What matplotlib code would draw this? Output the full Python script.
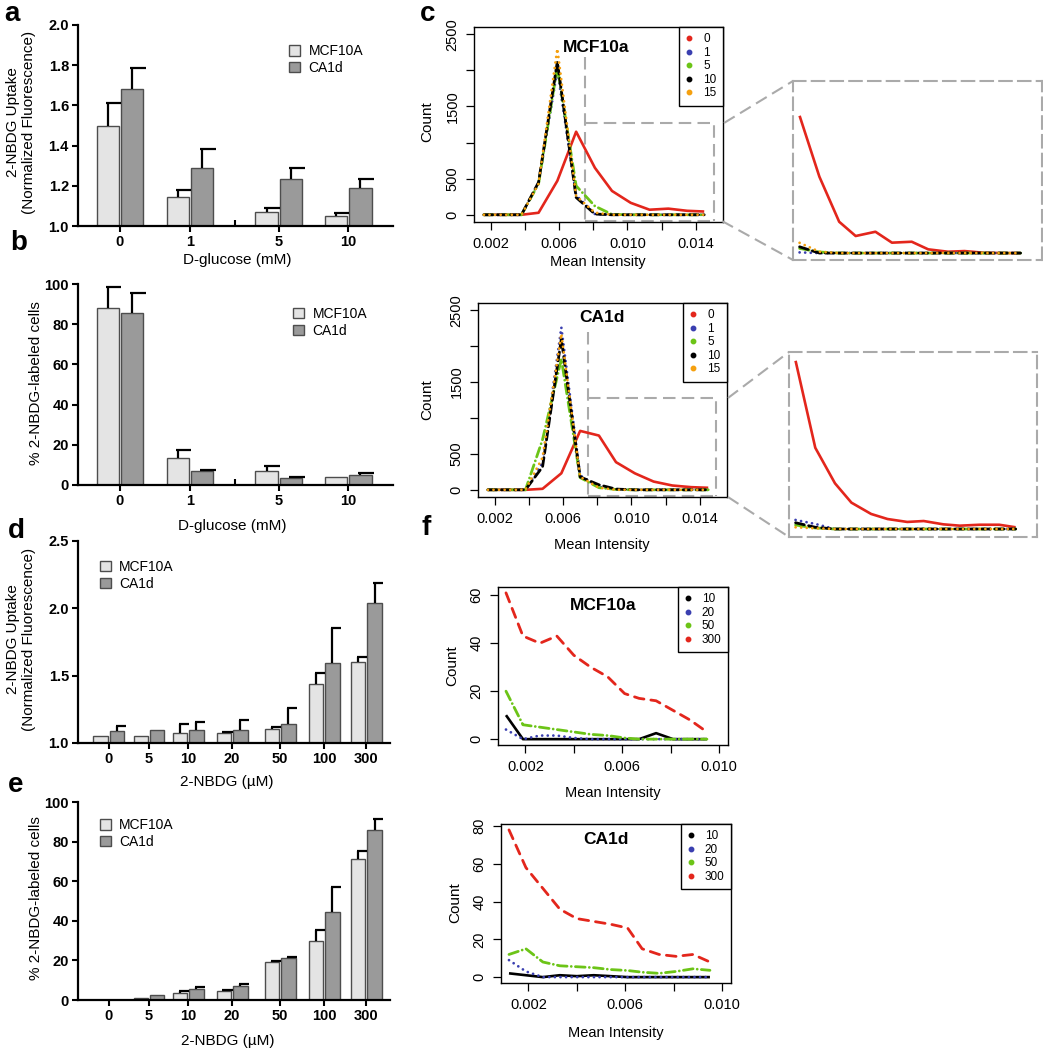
import numpy as np
import matplotlib
matplotlib.use('Agg')
import matplotlib.pyplot as plt
from matplotlib.lines import Line2D
from matplotlib.patches import Patch

plt.rcParams['font.family'] = ['Liberation Sans', 'DejaVu Sans']

# ---------------- data ----------------
glucose_labels = ['0', '1', '5', '10']
a_mcf = [1.50, 1.145, 1.07, 1.05]
a_mcf_err = [0.11, 0.035, 0.02, 0.015]
a_ca = [1.68, 1.29, 1.235, 1.19]
a_ca_err = [0.105, 0.095, 0.055, 0.045]

b_mcf = [88, 13.4, 7.1, 3.8]
b_mcf_err = [10.5, 4.0, 2.4, 0.0]
b_ca = [85.5, 7.0, 3.6, 5.0]
b_ca_err = [10.0, 0.5, 0.5, 1.1]

nbdg_labels = ['0', '5', '10', '20', '50', '100', '300']
d_mcf = [1.05, 1.054, 1.074, 1.074, 1.104, 1.436, 1.60]
d_mcf_err = [0, 0, 0.065, 0.005, 0.015, 0.086, 0.04]
d_ca = [1.089, 1.10, 1.10, 1.10, 1.139, 1.594, 2.04]
d_ca_err = [0.04, 0, 0.056, 0.073, 0.121, 0.26, 0.15]

e_mcf = [0, 0.8, 3.7, 4.7, 19.2, 29.7, 71]
e_mcf_err = [0, 0, 1.0, 0.5, 0.6, 5.6, 4.5]
e_ca = [0, 2.4, 5.5, 6.9, 21.2, 44.5, 86]
e_ca_err = [0, 0, 0.9, 1.0, 0.3, 12.6, 5.5]

# panel c: histograms of mean intensity (glucose mM)
c_labels = ['0', '1', '5', '10', '15']
c_x = [0.0016, 0.0027, 0.0038, 0.0048, 0.0059, 0.0070, 0.0081,
       0.0091, 0.0102, 0.0113, 0.0124, 0.0135, 0.0145]
c_mcf_0 = [0, 0, 0, 28, 470, 1150, 650, 330, 165, 70, 85, 55, 45]
c_mcf_1 = [0, 0, 0, 440, 2000, 270, 10, 0, 0, 0, 0, 0, 0]
c_mcf_5 = [0, 0, 0, 430, 2050, 400, 120, 5, 0, 0, 0, 0, 0]
c_mcf_10 = [0, 0, 0, 450, 2120, 240, 10, 0, 0, 0, 0, 0, 0]
c_mcf_15 = [0, 0, 0, 430, 2300, 260, 30, 0, 0, 0, 0, 0, 0]

c_ca_0 = [0, 0, 0, 14, 230, 820, 755, 385, 230, 115, 60, 37, 28]
c_ca_1 = [0, 0, 0, 380, 2260, 200, 40, 10, 0, 0, 0, 0, 0]
c_ca_5 = [0, 0, 0, 700, 1820, 170, 30, 5, 0, 0, 0, 0, 0]
c_ca_10 = [0, 0, 0, 320, 2100, 180, 70, 10, 0, 0, 0, 0, 0]
c_ca_15 = [0, 0, 0, 450, 2170, 180, 30, 0, 0, 0, 0, 0, 0]

# zoomed insets of panel c (finer bins)
z_x = [0.0077, 0.0083, 0.0089, 0.0094, 0.0100, 0.0105, 0.0111,
       0.0116, 0.0122, 0.0127, 0.0133, 0.0139, 0.0144]
z_mcf_0 = [1030, 573, 235, 128, 160, 78, 85, 28, 10, 15, 2, 0, 0]
z_mcf_1 = [5, 0, 0, 0, 0, 0, 0, 0, 0, 0, 0, 0, 0]
z_mcf_5 = [35, 8, 0, 0, 0, 0, 0, 0, 0, 0, 0, 0, 0]
z_mcf_10 = [47, 0, 0, 0, 0, 0, 0, 0, 0, 0, 0, 0, 0]
z_mcf_15 = [77, 10, 0, 0, 0, 0, 0, 0, 0, 0, 0, 0, 0]
z_ca_0 = [1263, 610, 343, 198, 113, 75, 53, 60, 35, 25, 32, 32, 13]
z_ca_1 = [68, 38, 0, 0, 0, 0, 0, 0, 0, 0, 0, 0, 0]
z_ca_5 = [30, 8, 0, 0, 0, 0, 0, 0, 0, 0, 0, 0, 0]
z_ca_10 = [47, 13, 0, 0, 0, 0, 0, 0, 0, 0, 0, 0, 0]
z_ca_15 = [13, 5, 0, 0, 0, 0, 0, 0, 0, 0, 0, 0, 0]

# panel f: histograms (2-NBDG uM)
f_labels = ['10', '20', '50', '300']
f_x = [0.0012, 0.0019, 0.0026, 0.0033, 0.0040, 0.0047, 0.0054,
       0.0061, 0.0067, 0.0074, 0.0081, 0.0088, 0.0095]
f_mcf_10 = [10, 0, 0, 0, 0, 0, 0, 0, 0, 2.5, 0, 0, 0]
f_mcf_20 = [4, 0, 1.5, 1.5, 0.5, 0, 0, 0, 0, 0, 0, 0, 0]
f_mcf_50 = [20, 6, 5, 4, 3, 2, 1.5, 0.5, 0, 0, 0, 0, 0]
f_mcf_300 = [61, 43, 40, 43, 35, 30, 26, 19, 17, 16, 12, 8, 3]
f_ca_10 = [2, 1, 0, 1, 0.5, 1, 0.5, 0, 0, 0, 0, 0, 0]
f_ca_20 = [9, 3, 0, 0, 0, 0, 0, 0, 0, 0, 0, 0, 0]
f_ca_50 = [12, 15, 8, 6, 5.5, 5, 4, 3.5, 2.6, 2, 3, 4.4, 3.6]
f_ca_300 = [78, 58, 47, 36, 31, 29.5, 28, 26, 15, 12, 11, 12, 8]

# ---------------- styles / layout ----------------
W, H = 1043, 1050
fig = plt.figure(figsize=(W / 100, H / 100), dpi=100)

LIGHT, DARK, EDGE = '#e4e4e4', '#9a9a9a', '#4d4d4d'
GRAY = '#aaaaaa'
RED, BLUE, GREEN, ORANGE = '#e3261c', '#3a3fb0', '#6cc417', '#f5a00f'
DOT = (0, (0.01, 2.0))
DASH = (0, (3.2, 1.6))
DOTDASH = (0, (3.5, 1.5, 0.01, 1.5))
RDASH = (0, (3.5, 2.5))


def fax(l, t, r, b):
    return fig.add_axes([l / W, 1 - b / H, (r - l) / W, (b - t) / H])


def ftext(x, y, s, **kw):
    return fig.text(x / W, 1 - y / H, s, **kw)


def gline(points):
    fig.add_artist(Line2D([p[0] / W for p in points], [1 - p[1] / H for p in points],
                          transform=fig.transFigure, color=GRAY, lw=1.5, ls=(0, (6, 3))))


def bar_panel(box, pos, mcf, mcf_err, ca, ca_err, labels, xlim, ylim, yticks, yfmt,
              off, width, leg_xy, up_ticks):
    ax = fax(*box)
    pos = np.asarray(pos, float)
    ax.bar(pos - off, mcf, width, color=LIGHT, edgecolor=EDGE, linewidth=1.0, zorder=2)
    ax.bar(pos + off, ca, width, color=DARK, edgecolor=EDGE, linewidth=1.0, zorder=2)
    for xs, v, e in ((pos - off, mcf, mcf_err), (pos + off, ca, ca_err)):
        for xi, vi, ei in zip(xs, v, e):
            if ei > 0:
                ax.vlines(xi, vi, vi + ei, color='k', lw=1.6, zorder=3)
                ax.hlines(vi + ei, xi - 0.1 * width, xi + 0.6 * width, color='k', lw=1.6, zorder=3)
    ax.set_xlim(xlim)
    ax.set_ylim(ylim)
    ax.set_xticks(pos)
    ax.set_xticklabels(labels)
    ax.set_yticks(yticks)
    ax.set_yticklabels([yfmt.format(v) for v in yticks])
    for s in ['top', 'right']:
        ax.spines[s].set_visible(False)
    for s in ['left', 'bottom']:
        ax.spines[s].set_linewidth(1.6)
    ax.tick_params(direction='out', length=4.5, width=1.5, labelsize=10.5, pad=2)
    for t in ax.get_xticklabels() + ax.get_yticklabels():
        t.set_fontweight('bold')
    ax.set_xticks(up_ticks, minor=True)
    ax.tick_params(axis='x', which='minor', direction='in', length=4, width=1.5)
    handles = [Patch(facecolor=LIGHT, edgecolor=EDGE, linewidth=1.0),
               Patch(facecolor=DARK, edgecolor=EDGE, linewidth=1.0)]
    ax.legend(handles, ['MCF10A', 'CA1d'], loc='upper left', bbox_to_anchor=leg_xy,
              frameon=False, fontsize=10, handlelength=0.8, handleheight=0.8,
              handletextpad=0.6, labelspacing=0.2, borderpad=0, borderaxespad=0)
    return ax


def hist_panel(box, x, series, cols, styles, lws, labels, xlim, ylim, yticks, ylabels,
               xticks, xlabels, title, title_xy):
    ax = fax(*box)
    for y, c, ls, lw in zip(series, cols, styles, lws):
        ax.plot(x, y, color=c, ls=ls, lw=lw, dash_capstyle='round', solid_capstyle='butt')
    ax.set_xlim(xlim)
    ax.set_ylim(ylim)
    ax.set_xticks(xticks)
    ax.set_xticklabels(xlabels)
    ax.set_yticks(yticks)
    ax.set_yticklabels(ylabels, rotation=90, va='center')
    ax.tick_params(direction='out', length=5.5, width=0.9, labelsize=10.5, pad=5)
    for sp in ax.spines.values():
        sp.set_linewidth(1.0)
    handles = [Line2D([], [], ls='none', marker='o', ms=3.2, color=c) for c in cols]
    leg = ax.legend(handles, labels, loc='upper right',
                    borderaxespad=0, fancybox=False, edgecolor='k', fontsize=8.5,
                    handlelength=0.6, handletextpad=0.9, labelspacing=0.12, borderpad=0.55,
                    framealpha=1)
    leg.get_frame().set_linewidth(1.0)
    ax.text(title_xy[0], title_xy[1], title, transform=ax.transAxes, ha='center',
            va='center', fontsize=12.5, fontweight='bold')
    return ax


def inset(box, x, series, cols, styles, lws, xlim, ylim):
    ax = fax(*box)
    for y, c, ls, lw in zip(series, cols, styles, lws):
        ax.plot(x, y, color=c, ls=ls, lw=lw, dash_capstyle='round', solid_capstyle='butt')
    ax.set_xlim(xlim)
    ax.set_ylim(ylim)
    ax.set_xticks([])
    ax.set_yticks([])
    ax.patch.set_alpha(0)
    for sp in ax.spines.values():
        sp.set_linestyle((0, (6, 3)))
        sp.set_edgecolor(GRAY)
        sp.set_linewidth(1.5)
    return ax


# ---------------- panels a, b, d, e ----------------
a_pos = [0, 1, 2.27, 3.26]
d_pos = [0, 0.93, 1.84, 2.86, 3.98, 5.0, 5.98]

bar_panel((78, 25, 393, 226), a_pos, a_mcf, a_mcf_err, a_ca, a_ca_err, glucose_labels,
          (-0.6, 3.9), (1.0, 2.0), [1.0, 1.2, 1.4, 1.6, 1.8, 2.0], '{:.1f}',
          0.175, 0.32, (0.67, 0.905), [1.64])
bar_panel((78, 284, 393, 485), a_pos, b_mcf, b_mcf_err, b_ca, b_ca_err, glucose_labels,
          (-0.6, 3.9), (0, 100), [0, 20, 40, 60, 80, 100], '{:.0f}',
          0.175, 0.32, (0.683, 0.886), [1.64])
bar_panel((78, 541, 390, 743), d_pos, d_mcf, d_mcf_err, d_ca, d_ca_err, nbdg_labels,
          (-0.72, 6.53), (1.0, 2.5), [1.0, 1.5, 2.0, 2.5], '{:.1f}',
          0.19, 0.34, (0.07, 0.906), [2.86])
bar_panel((78, 802, 390, 1000), d_pos, e_mcf, e_mcf_err, e_ca, e_ca_err, nbdg_labels,
          (-0.72, 6.53), (0, 100), [0, 20, 40, 60, 80, 100], '{:.0f}',
          0.19, 0.34, (0.07, 0.919), [2.86])

ftext(21, 122, '2-NBDG Uptake\n(Normalized Fluorescence)', rotation=90, ha='center',
      va='center', fontsize=11, linespacing=1.15)
ftext(237, 260, 'D-glucose (mM)', ha='center', va='center', fontsize=11)
ftext(36, 383, '% 2-NBDG-labeled cells', rotation=90, ha='center', va='center', fontsize=11)
ftext(232, 526, 'D-glucose (mM)', ha='center', va='center', fontsize=11)
ftext(21, 639, '2-NBDG Uptake\n(Normalized Fluorescence)', rotation=90, ha='center',
      va='center', fontsize=11, linespacing=1.15)
ftext(227, 782, '2-NBDG (\u00b5M)', ha='center', va='center', fontsize=11)
ftext(36, 898, '% 2-NBDG-labeled cells', rotation=90, ha='center', va='center', fontsize=11)
ftext(228, 1041, '2-NBDG (\u00b5M)', ha='center', va='center', fontsize=11)

# ---------------- panel c ----------------
c_cols = [RED, BLUE, GREEN, 'k', ORANGE]
c_styles = ['-', DOT, DOTDASH, DASH, DOT]
c_lws = [1.9, 2.0, 2.0, 2.0, 2.0]
c_xt = [0.002, 0.004, 0.006, 0.008, 0.010, 0.012, 0.014]
c_xl = ['0.002', '', '0.006', '', '0.010', '', '0.014']
c_yt = [0, 500, 1000, 1500, 2000, 2500]
c_yl = ['0', '500', '', '1500', '', '2500']

ax_c1 = hist_panel((474, 27, 723, 222), c_x, [c_mcf_0, c_mcf_1, c_mcf_5, c_mcf_10, c_mcf_15],
                   c_cols, c_styles, c_lws, c_labels, (0.00102, 0.0156), (-100, 2600),
                   c_yt, c_yl, c_xt, c_xl, 'MCF10a', (0.49, 0.897))
ax_c2 = hist_panel((478, 303, 727, 497), c_x, [c_ca_0, c_ca_1, c_ca_5, c_ca_10, c_ca_15],
                   c_cols, c_styles, c_lws, c_labels, (0.00102, 0.0156), (-100, 2600),
                   c_yt, c_yl, c_xt, c_xl, 'CA1d', (0.498, 0.923))

for ax, x0, x1, ytop, yv in ((ax_c1, 0.0075, 0.01505, 1265, 2180),
                             (ax_c2, 0.00745, 0.01493, 1277, 2195)):
    kw = dict(color=GRAY, lw=1.5, ls=(0, (6, 3)), zorder=1)
    ax.plot([x0, x0], [yv, -85], **kw)
    ax.plot([x0, x1, x1], [ytop, ytop, -85], **kw)
    ax.plot([x0, x1], [-85, -85], **kw)

ftext(427, 122, 'Count', rotation=90, ha='center', va='center', fontsize=11)
ftext(598, 262, 'Mean Intensity', ha='center', va='center', fontsize=10.5)
ftext(427, 400, 'Count', rotation=90, ha='center', va='center', fontsize=11)
ftext(602, 545, 'Mean Intensity', ha='center', va='center', fontsize=10.5)

inset((793, 81, 1042, 260), z_x, [z_mcf_0, z_mcf_1, z_mcf_5, z_mcf_10, z_mcf_15],
      c_cols, c_styles, c_lws, (0.0075, 0.01505), (-52, 1291))
inset((789, 352, 1037, 537), z_x, [z_ca_0, z_ca_1, z_ca_5, z_ca_10, z_ca_15],
      c_cols, c_styles, c_lws, (0.0075, 0.01505), (-60, 1329))

gline([(724, 123), (793, 81)])
gline([(722, 221), (793, 260)])
gline([(728, 398), (789, 352)])
gline([(728, 497), (789, 537)])

# ---------------- panel f ----------------
f_cols = ['k', BLUE, GREEN, RED]
f_styles = ['-', DOT, DOTDASH, RDASH]
f_lws = [1.9, 2.0, 2.0, 2.0]
f_xt = [0.002, 0.004, 0.006, 0.008, 0.010]
f_xl = ['0.002', '', '0.006', '', '0.010']

hist_panel((498, 587, 728, 745), f_x, [f_mcf_10, f_mcf_20, f_mcf_50, f_mcf_300],
           f_cols, f_styles, f_lws, f_labels, (0.00087, 0.01037), (-2.44, 63.44),
           [0, 20, 40, 60], ['0', '20', '40', '60'], f_xt, f_xl, 'MCF10a', (0.457, 0.886))
hist_panel((501, 824, 731, 983), f_x, [f_ca_10, f_ca_20, f_ca_50, f_ca_300],
           f_cols, f_styles, f_lws, f_labels, (0.00087, 0.01037), (-3.12, 81.12),
           [0, 20, 40, 60, 80], ['0', '20', '40', '60', '80'], f_xt, f_xl, 'CA1d', (0.457, 0.9))

ftext(452, 666, 'Count', rotation=90, ha='center', va='center', fontsize=11)
ftext(613, 793, 'Mean Intensity', ha='center', va='center', fontsize=10.5)
ftext(455, 903, 'Count', rotation=90, ha='center', va='center', fontsize=11)
ftext(616, 1033, 'Mean Intensity', ha='center', va='center', fontsize=10.5)

# ---------------- panel letters ----------------
for s, x, y in (('a', 4, 1), ('b', 10, 230), ('c', 420, 1), ('d', 8, 518),
                ('e', 8, 772), ('f', 421, 515)):
    ftext(x, y, s, ha='left', va='top', fontsize=20, fontweight='bold')

fig.savefig('out.png', dpi=100)
